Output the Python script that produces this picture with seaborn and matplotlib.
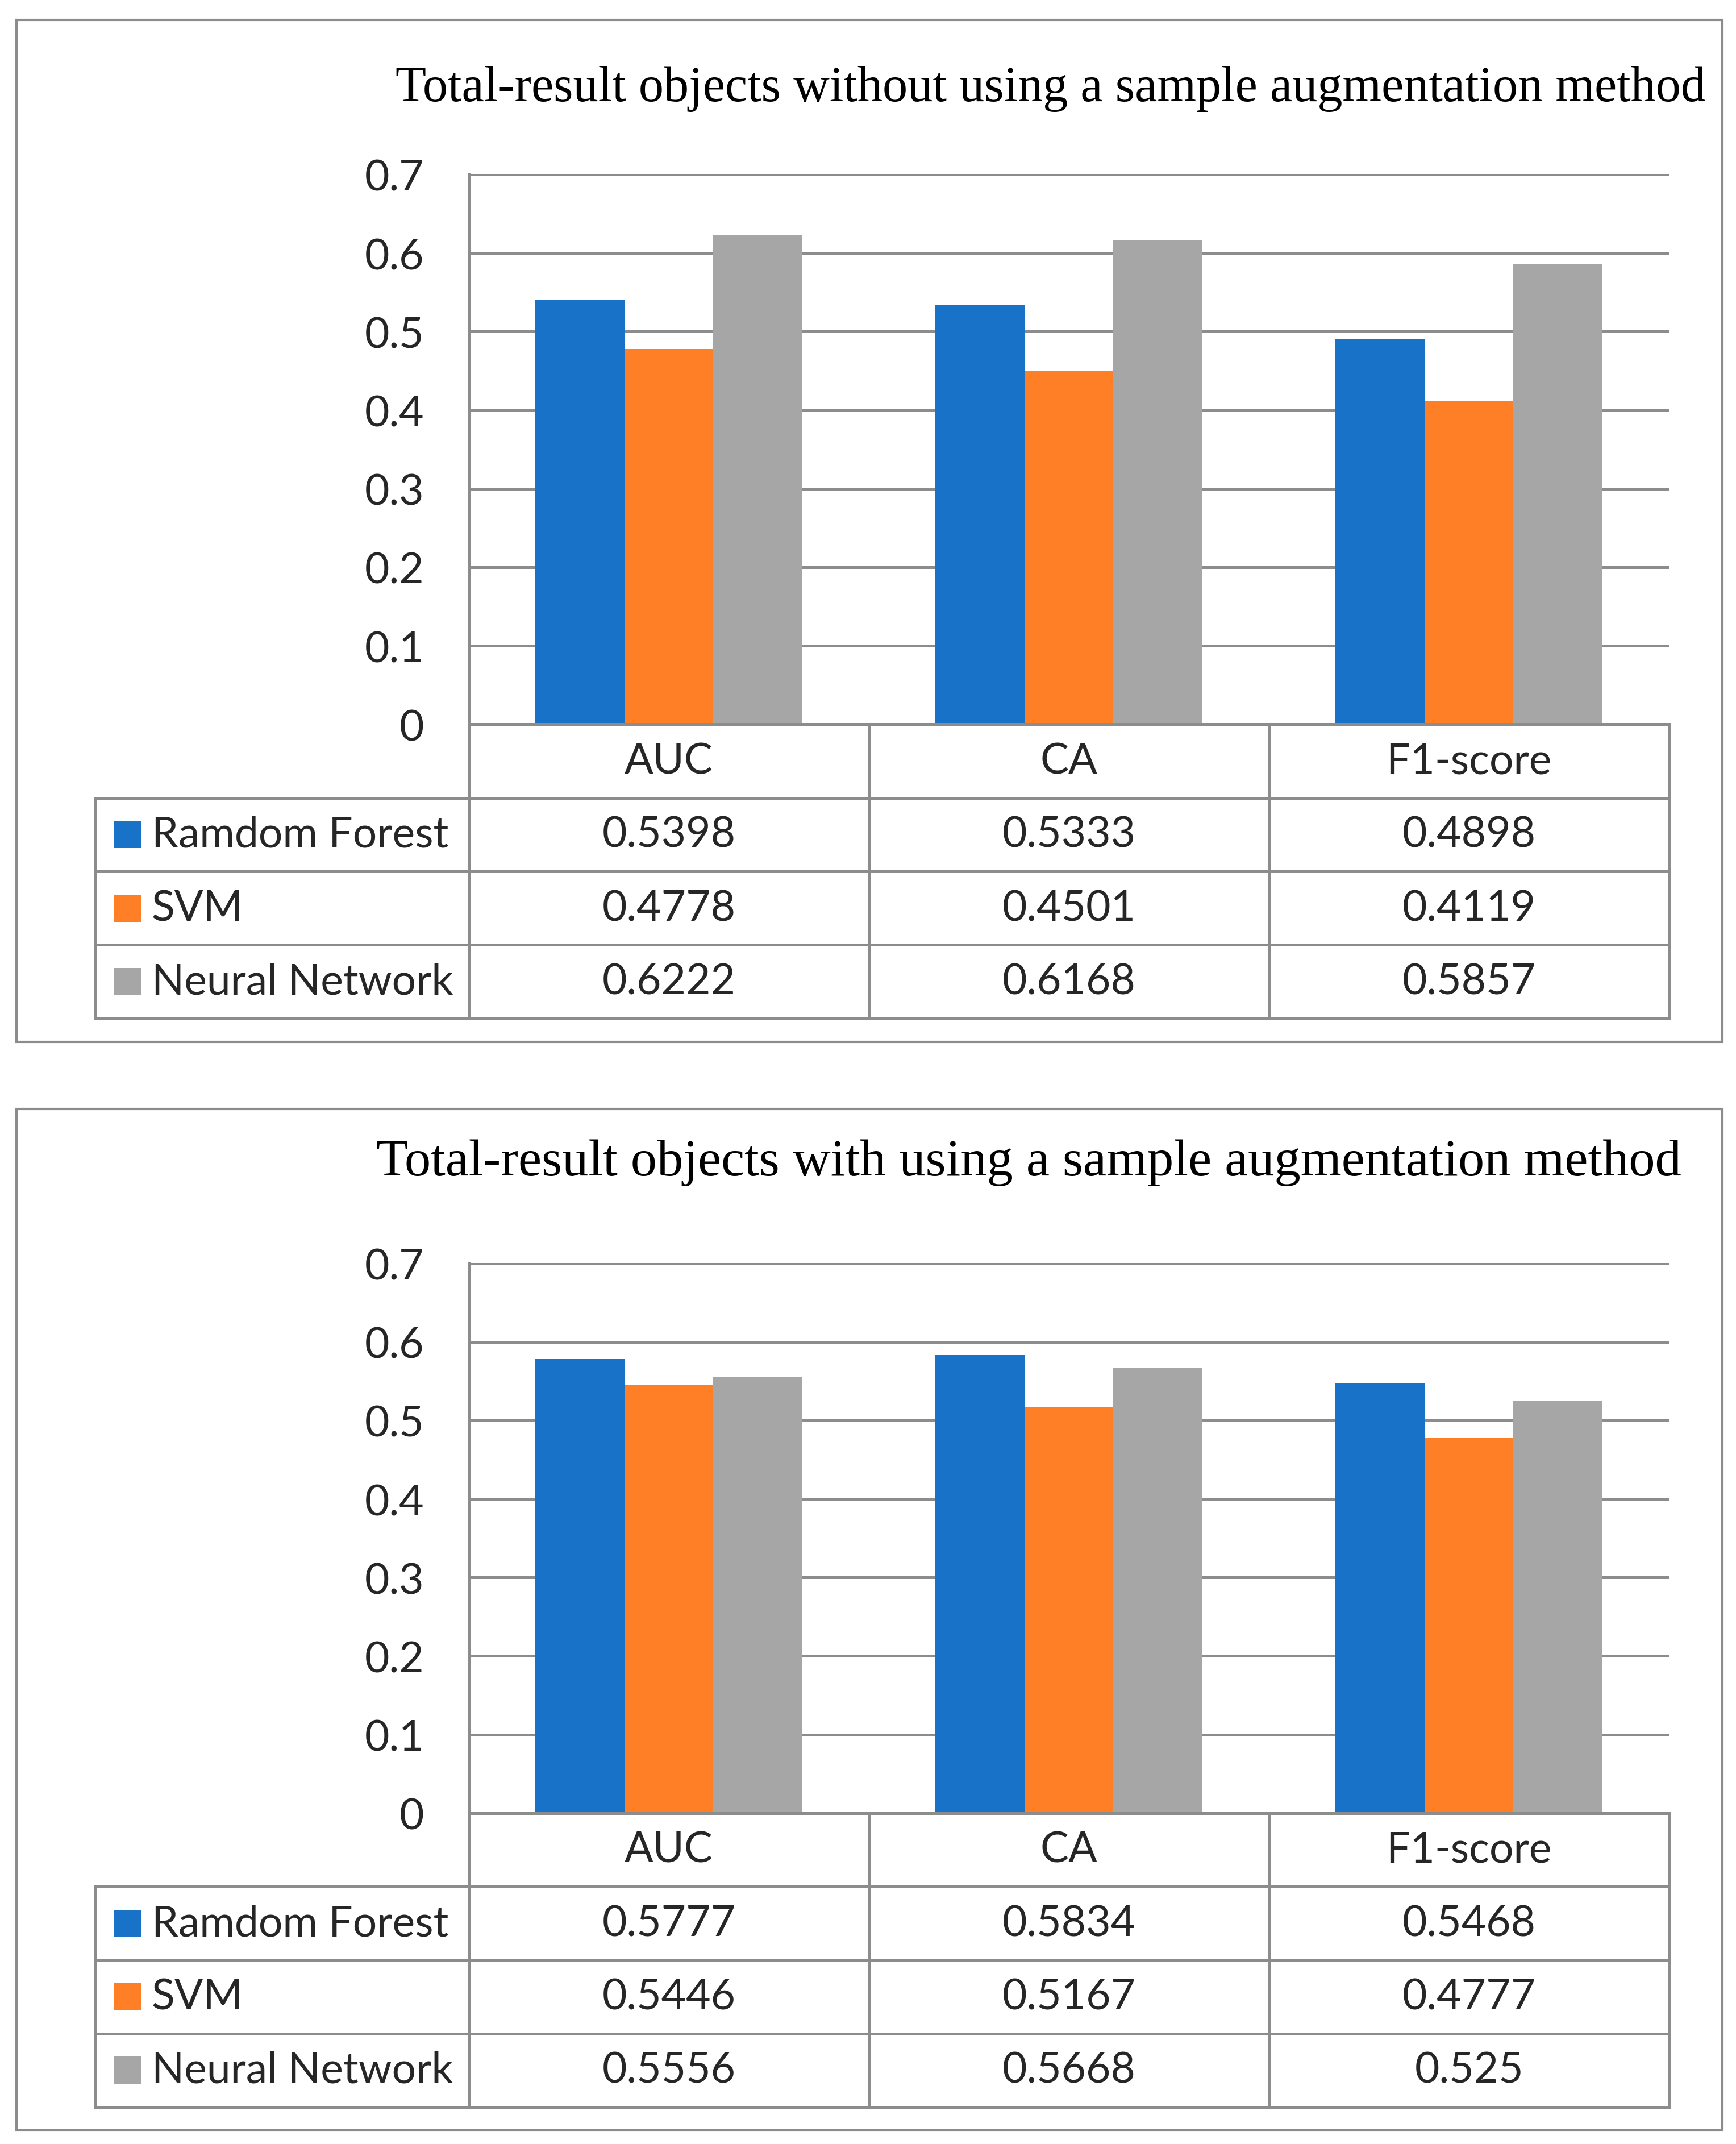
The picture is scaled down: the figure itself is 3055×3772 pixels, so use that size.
import numpy as np
import pandas as pd
import seaborn as sns
import matplotlib
matplotlib.use("Agg")
import matplotlib.pyplot as plt
from matplotlib.patches import Rectangle

categories = ["AUC", "CA", "F1-score"]
models = ["Ramdom Forest", "SVM", "Neural Network"]

rf_without = [0.5398, 0.5333, 0.4898]
svm_without = [0.4778, 0.4501, 0.4119]
nn_without = [0.6222, 0.6168, 0.5857]

rf_with = [0.5777, 0.5834, 0.5468]
svm_with = [0.5446, 0.5167, 0.4777]
nn_with = [0.5556, 0.5668, 0.525]

yticks = [0, 0.1, 0.2, 0.3, 0.4, 0.5, 0.6, 0.7]

title_without = "Total-result objects without using a sample augmentation method"
title_with = "Total-result objects with using a sample augmentation method"

colors = ["#1873c8", "#ff7f27", "#a6a6a6"]
line_gray = "#8c8c8c"

sns.set_style("white")
plt.rcParams["font.family"] = ["Lato", "DejaVu Sans"]

fig = plt.figure(figsize=(30.55, 37.73), dpi=100)

FS = 54
LW = 3.6
LABEL_COL = 273 / 292.67  # width of the legend column, in category units


def make_df(rf, svm, nn):
    rows = []
    for name, vals in zip(models, [rf, svm, nn]):
        for cat, v in zip(categories, vals):
            rows.append({"metric": cat, "model": name, "value": v})
    return pd.DataFrame(rows)


def panel(shift, title, title_x, title_y, title_fs, rf, svm, nn):
    # outer frame
    fig.add_artist(Rectangle((0.0095, 0.5140 - shift), 0.9826, 0.4764,
                             transform=fig.transFigure, fill=False,
                             edgecolor=line_gray, lw=3))
    fig.text(title_x, title_y, title, ha="right", va="center", fontsize=title_fs,
             family="Liberation Serif", color="black")

    df = make_df(rf, svm, nn)
    ax = fig.add_axes([0.2701, 0.6620 - shift, 0.6913, 0.2564])
    sns.barplot(data=df, x="metric", y="value", hue="model", order=categories,
                hue_order=models, palette=colors, width=2 / 3, saturation=1,
                linewidth=0, legend=False, ax=ax)
    ax.set_xlim(-0.5, 2.5)
    ax.set_ylim(0, 0.7)
    ax.set_yticks(yticks)
    ax.set_yticklabels([f"{t:g}" for t in yticks])
    ax.set_xticks([])
    ax.set_xlabel("")
    ax.set_ylabel("")
    ax.yaxis.grid(True, color=line_gray, lw=LW)
    ax.set_axisbelow(True)
    for s in ["top", "right", "bottom"]:
        ax.spines[s].set_visible(False)
    ax.spines["left"].set_color(line_gray)
    ax.spines["left"].set_linewidth(LW)
    ax.tick_params(axis="y", length=0, pad=57, labelsize=FS)

    # data table under the bars
    tax = fig.add_axes([0.0551, 0.5249 - shift, 0.9063, 0.1371])
    x0 = -0.5 - LABEL_COL
    tax.set_xlim(x0, 2.5)
    tax.set_ylim(4, 0)
    tax.axis("off")
    kw = dict(color=line_gray, lw=LW, clip_on=False, capstyle="projecting")
    tax.hlines([0], -0.5, 2.5, **kw)
    tax.hlines([1, 2, 3, 4], x0, 2.5, **kw)
    tax.vlines([-0.5, 0.5, 1.5, 2.5], 0, 4, **kw)
    tax.vlines([x0], 1, 4, **kw)
    for j, cat in enumerate(categories):
        tax.text(j, 0.5, cat, ha="center", va="center", fontsize=FS)
    for i, (name, vals) in enumerate(zip(models, [rf, svm, nn])):
        yc = i + 1.5
        tax.add_patch(Rectangle((x0 + 0.0444, yc - 0.186), 0.0683, 0.372,
                                color=colors[i], lw=0))
        tax.text(x0 + 0.140, yc, name, ha="left", va="center", fontsize=FS)
        for j, v in enumerate(vals):
            tax.text(j, yc, f"{v:g}", ha="center", va="center", fontsize=FS)


panel(0.0, title_without, 0.9827, 0.9585, 63.5, rf_without, svm_without, nn_without)
panel(0.5077, title_with, 0.9685, 0.4579, 66.5, rf_with, svm_with, nn_with)

fig.savefig("out.png", dpi=100)
